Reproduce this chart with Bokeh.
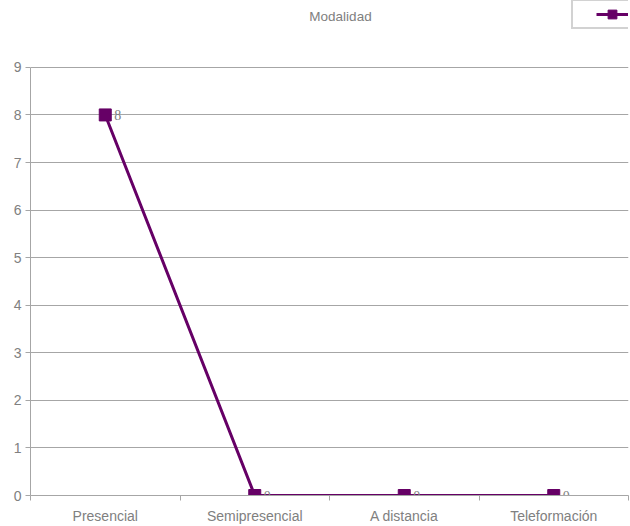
from bokeh.plotting import figure
from bokeh.models import FixedTicker, Range1d, Legend, LegendItem, Label, ColumnDataSource
from bokeh.embed import file_html
from bokeh.resources import INLINE

categories = ["Presencial", "Semipresencial", "A distancia", "Teleformación"]
values = [8, 0, 0, 0]
y_ticks = list(range(0, 10))
title_text = "Modalidad"

xs = [i + 0.5 for i in range(len(categories))]
src = ColumnDataSource(dict(x=xs, y=values, lab=[str(v) for v in values]))

# frame covers the whole area above the x axis; axis 0..9 occupies the lower 429 px
FRAME_H = 496
AXIS_H = 429
y_top = max(y_ticks) * FRAME_H / AXIS_H

p = figure(width=630, height=526, output_backend="svg", toolbar_location=None,
           x_range=Range1d(0, len(categories)), y_range=Range1d(0, y_top),
           min_border_left=30, min_border_right=2, min_border_top=0, min_border_bottom=30)
p.outline_line_color = None
p.background_fill_color = "white"
p.border_fill_color = "white"

GRAY = "#a6a6a6"
TXT = "#808080"
FONT = "Liberation Sans"

p.xgrid.grid_line_color = None
p.ygrid.grid_line_color = GRAY
p.ygrid.ticker = FixedTicker(ticks=y_ticks)

p.yaxis.ticker = FixedTicker(ticks=y_ticks)
p.yaxis.bounds = (min(y_ticks), max(y_ticks))
p.yaxis.axis_line_color = GRAY
p.yaxis.major_tick_line_color = GRAY
p.yaxis.major_tick_in = 0
p.yaxis.major_tick_out = 5
p.yaxis.minor_tick_line_color = None
p.yaxis.major_label_text_color = TXT
p.yaxis.major_label_text_font = FONT
p.yaxis.major_label_text_font_size = "14px"
p.yaxis.major_label_standoff = 4

p.xaxis.ticker = FixedTicker(ticks=xs, minor_ticks=list(range(0, len(categories) + 1)))
p.xaxis.major_label_overrides = {x: c for x, c in zip(xs, categories)}
p.xaxis.axis_line_color = GRAY
p.xaxis.major_tick_line_color = None
p.xaxis.major_tick_in = 0
p.xaxis.major_tick_out = 0
p.xaxis.minor_tick_line_color = GRAY
p.xaxis.minor_tick_in = 0
p.xaxis.minor_tick_out = 5
p.xaxis.major_label_text_color = TXT
p.xaxis.major_label_text_font = FONT
p.xaxis.major_label_text_font_size = "14px"
p.xaxis.major_label_standoff = 7

COL = "#660066"
ln = p.line("x", "y", source=src, line_color=COL, line_width=3)
mk = p.scatter("x", "y", source=src, marker="square", size=12, fill_color=COL, line_color=COL)
p.text("x", "y", text="lab", source=src, x_offset=9, text_baseline="middle", text_align="left",
       text_color=TXT, text_font=FONT, text_font_size="14px")

legend = Legend(items=[LegendItem(label=" ", renderers=[ln, mk])], location=(541, 466),
                title=" ", title_location="left", title_standoff=6,
                title_text_font_size="13px",
                border_line_color=GRAY, border_line_width=2, background_fill_color="white",
                glyph_width=32, glyph_height=22, label_width=10, label_height=22,
                padding=2, margin=0, label_standoff=2, label_text_font_size="13px")
p.add_layout(legend, "center")

p.add_layout(Label(x=310, y=479, x_units="screen", y_units="screen", text=title_text,
                   text_align="center", text_baseline="middle", text_color=TXT,
                   text_font=FONT, text_font_size="13.5px"))

open("out.html", "w").write(file_html(p, INLINE))
